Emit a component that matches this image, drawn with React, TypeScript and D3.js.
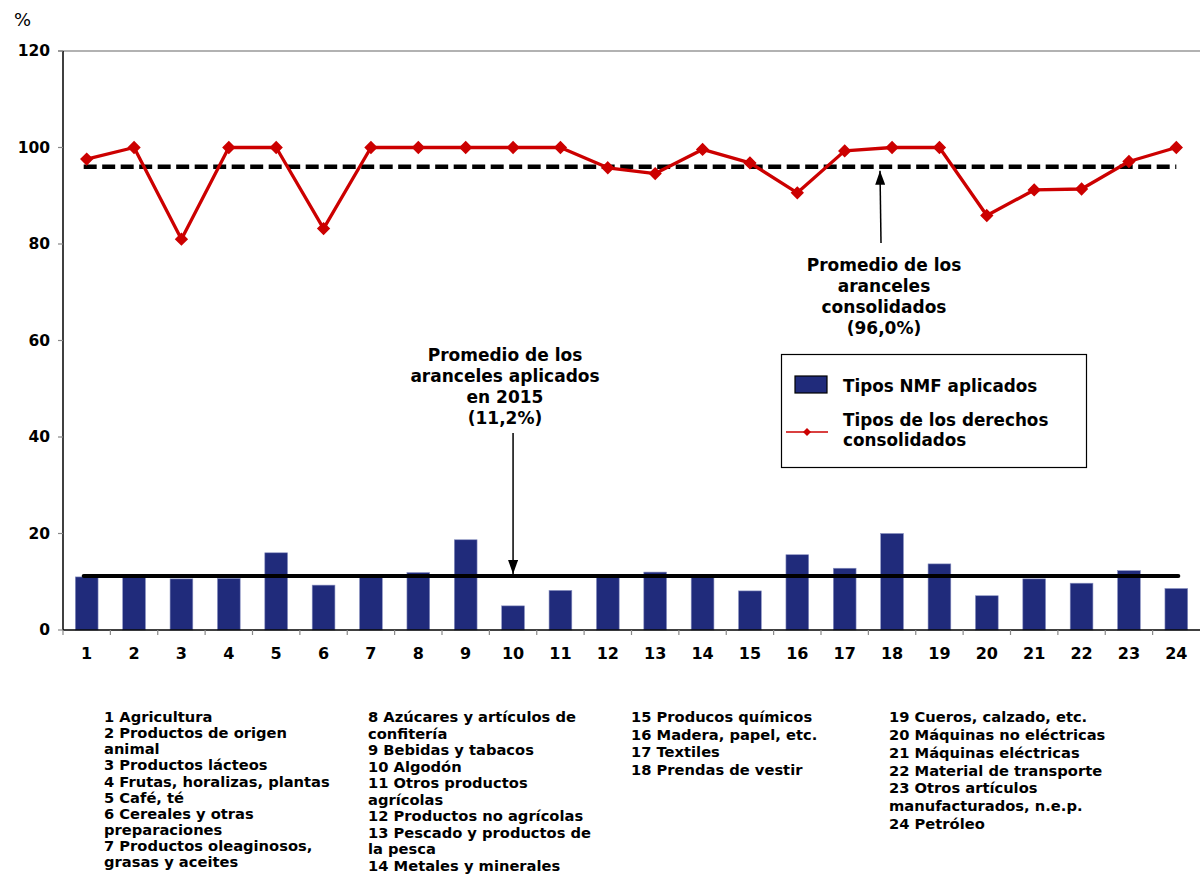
import React from 'react';
import * as d3 from 'd3';

const categories = ['1', '2', '3', '4', '5', '6', '7', '8', '9', '10', '11', '12', '13', '14', '15', '16', '17', '18', '19', '20', '21', '22', '23', '24'];
const appliedRates = [11.0, 11.0, 10.6, 10.7, 16.0, 9.3, 11.1, 11.9, 18.7, 5.0, 8.2, 11.0, 12.0, 11.0, 8.1, 15.6, 12.8, 20.0, 13.7, 7.1, 10.6, 9.7, 12.3, 8.6];
const boundRates = [97.6, 100, 81.0, 100, 100, 83.2, 100, 100, 100, 100, 100, 95.8, 94.6, 99.6, 96.8, 90.6, 99.3, 100, 100, 85.9, 91.2, 91.4, 97.1, 100];
const appliedAverage = 11.2;
const boundAverage = 96.0;
const yTicks = [0, 20, 40, 60, 80, 100, 120];

const appliedNote = ['Promedio de los', 'aranceles aplicados', 'en 2015', '(11,2%)'];
const boundNote = ['Promedio de los', 'aranceles', 'consolidados', '(96,0%)'];
const legendBar = 'Tipos NMF aplicados';
const legendLine = ['Tipos de los derechos', 'consolidados'];

const keyCol1 = ['1 Agricultura', '2 Productos de origen', 'animal', '3 Productos lácteos', '4 Frutas, horalizas, plantas', '5 Café, té', '6 Cereales y otras', 'preparaciones', '7 Productos oleaginosos,', 'grasas y aceites'];
const keyCol2 = ['8 Azúcares y artículos de', 'confitería', '9 Bebidas y tabacos', '10 Algodón', '11 Otros productos', 'agrícolas', '12 Productos no agrícolas', '13 Pescado y productos de', 'la pesca', '14 Metales y minerales'];
const keyCol3 = ['15 Producos químicos', '16 Madera, papel, etc.', '17 Textiles', '18 Prendas de vestir'];
const keyCol4 = ['19 Cueros, calzado, etc.', '20 Máquinas no eléctricas', '21 Máquinas eléctricas', '22 Material de transporte', '23 Otros artículos', 'manufacturados, n.e.p.', '24 Petróleo'];

const W = 1200;
const H = 875;
const margin = { top: 51, right: 0, bottom: 245, left: 63 };
const font = '"DejaVu Sans", Verdana, sans-serif';
const navy = '#202b7b';
const red = '#cc0000';

const x = d3.scaleBand<string>()
  .domain(categories)
  .range([margin.left, W - margin.right])
  .paddingInner(0);

const y = d3.scaleLinear()
  .domain([0, 120])
  .range([H - margin.bottom, margin.top]);

const cx = (c: string) => (x(c) ?? 0) + x.bandwidth() / 2;

const diamond = d3.symbol().type(d3.symbolDiamond2).size(80);

const line = d3.line<number>()
  .x((_, i) => cx(categories[i]))
  .y(d => y(d));

const KeyColumn = ({ lines, left, top, step }: { lines: string[]; left: number; top: number; step: number }) => (
  <g>
    {lines.map((t, i) => (
      <text key={i} x={left} y={top + i * step} dy="0.35em" fontSize={14.7} fontWeight="bold" fontFamily={font}>{t}</text>
    ))}
  </g>
);

export default function App() {
  const barW = x.bandwidth() * 0.48;
  const first = cx(categories[0]);
  const last = cx(categories[categories.length - 1]);
  const arrowX1 = cx('10');
  const arrowX2 = 880;

  return (
    <svg width={W} height={H} style={{ position: 'absolute', left: 0, top: 0, background: '#fff' }}>
      <defs>
        <marker id="ah" viewBox="0 0 14 10" refX="14" refY="5" markerWidth="14" markerHeight="10" orient="auto" markerUnits="userSpaceOnUse">
          <path d="M0,0 L14,5 L0,10 Z" fill="#000" />
        </marker>
      </defs>

      <text x={14} y={20} dy="0.35em" fontSize={18} fontFamily={font}>%</text>

      {/* top gridline */}
      <line x1={margin.left - 5} x2={W} y1={y(120)} y2={y(120)} stroke="#999" strokeWidth={1.5} />

      {/* y axis */}
      <line x1={margin.left} x2={margin.left} y1={y(0)} y2={y(120)} stroke="#000" strokeWidth={1.5} />
      {yTicks.map(t => (
        <g key={t}>
          <line x1={margin.left - 5} x2={margin.left} y1={y(t)} y2={y(t)} stroke="#888" strokeWidth={1.2} />
          <text x={50} y={y(t)} dy="0.35em" textAnchor="end" fontSize={15.5} fontWeight="bold" fontFamily={font}>{t}</text>
        </g>
      ))}

      {/* bars */}
      {categories.map((c, i) => (
        <rect key={c} x={cx(c) - barW / 2} y={y(appliedRates[i])} width={barW} height={y(0) - y(appliedRates[i])}
          fill={navy} stroke="#8890c0" strokeWidth={0.6} />
      ))}

      {/* x axis */}
      <line x1={margin.left} x2={W} y1={y(0)} y2={y(0)} stroke="#000" strokeWidth={1.5} />
      {categories.map(c => (
        <g key={c}>
          <line x1={x(c)} x2={x(c)} y1={y(0)} y2={y(0) + 5} stroke="#888" strokeWidth={1.2} />
          <text x={cx(c)} y={y(0) + 23} dy="0.35em" textAnchor="middle" fontSize={16} fontWeight="bold" fontFamily={font}>{c}</text>
        </g>
      ))}

      {/* average lines */}
      <line x1={first - 3} x2={last + 2} y1={y(appliedAverage)} y2={y(appliedAverage)} stroke="#000" strokeWidth={4} strokeLinecap="round" />
      <line x1={first - 3} x2={last} y1={y(boundAverage)} y2={y(boundAverage)} stroke="#000" strokeWidth={4.5} strokeDasharray="13 5.5" />

      {/* bound rates */}
      <path d={line(boundRates) ?? ''} fill="none" stroke={red} strokeWidth={3.3} strokeLinejoin="round" />
      {boundRates.map((v, i) => (
        <path key={i} d={diamond() ?? ''} transform={`translate(${cx(categories[i])},${y(v)})`} fill={red} stroke={red} strokeWidth={1.5} />
      ))}

      {/* annotation: applied */}
      {appliedNote.map((t, i) => (
        <text key={i} x={505} y={355 + i * 21} dy="0.35em" textAnchor="middle" fontSize={17} fontWeight="bold" fontFamily={font}>{t}</text>
      ))}
      <line x1={arrowX1} x2={arrowX1} y1={433} y2={y(appliedAverage) - 2} stroke="#000" strokeWidth={1.5} markerEnd="url(#ah)" />

      {/* annotation: bound */}
      {boundNote.map((t, i) => (
        <text key={i} x={884} y={265 + i * 21} dy="0.35em" textAnchor="middle" fontSize={17} fontWeight="bold" fontFamily={font}>{t}</text>
      ))}
      <line x1={arrowX2 + 1} x2={arrowX2} y1={243} y2={y(boundAverage) + 4} stroke="#000" strokeWidth={1.5} markerEnd="url(#ah)" />

      {/* legend */}
      <rect x={781.5} y={354.5} width={305} height={113} fill="#fff" stroke="#000" strokeWidth={1.2} />
      <rect x={795} y={376} width={32} height={17} fill={navy} stroke="#000" strokeWidth={1.2} />
      <text x={843} y={386} dy="0.35em" fontSize={16.8} fontWeight="bold" fontFamily={font}>{legendBar}</text>
      <line x1={786} x2={828} y1={432} y2={432} stroke={red} strokeWidth={1.5} />
      <path d={d3.symbol().type(d3.symbolDiamond2).size(40)() ?? ''} transform="translate(807,432)" fill={red} />
      {legendLine.map((t, i) => (
        <text key={i} x={843} y={420 + i * 20} dy="0.35em" fontSize={16.8} fontWeight="bold" fontFamily={font}>{t}</text>
      ))}

      {/* category key */}
      <KeyColumn lines={keyCol1} left={104} top={717} step={16.1} />
      <KeyColumn lines={keyCol2} left={368} top={717} step={16.5} />
      <KeyColumn lines={keyCol3} left={631} top={717} step={17.6} />
      <KeyColumn lines={keyCol4} left={889} top={717} step={17.8} />
    </svg>
  );
}
